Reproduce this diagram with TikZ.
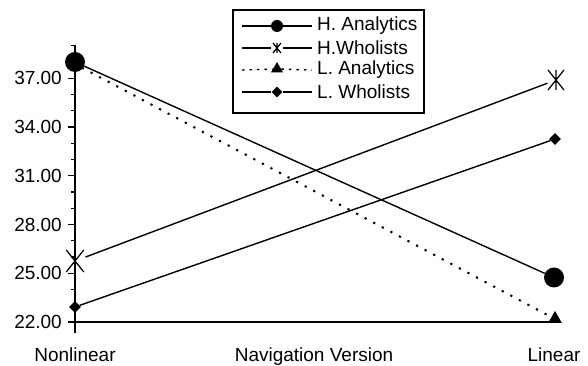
\documentclass[tikz,border=0pt]{standalone}
\usepackage{fontspec}
\setmainfont{Liberation Sans}
\usetikzlibrary{shapes.geometric}
\tikzset{
  axisline/.style={line width=1.5pt},
  dataline/.style={line width=1.4pt},
  dotline/.style={line width=2pt, dash pattern=on 2.2pt off 7.5pt},
  legdot/.style={line width=1.4pt, dash pattern=on 2.5pt off 5pt},
  lbl/.style={font=\fontsize{19}{21}\selectfont, inner sep=0pt},
  bigdot/.style={circle, fill=black, minimum size=20pt, inner sep=0pt},
  smalldot/.style={circle, fill=black, minimum size=12pt, inner sep=0pt},
  bigdia/.style={diamond, fill=black, minimum size=12pt, inner sep=0pt},
  smalldia/.style={diamond, fill=black, minimum size=11pt, inner sep=0pt},
  bigtri/.style={regular polygon, regular polygon sides=3, fill=black, minimum size=16pt, inner sep=0pt},
  smalltri/.style={regular polygon, regular polygon sides=3, fill=black, minimum size=14pt, inner sep=0pt},
  starholder/.style={circle, minimum size=#1, inner sep=0pt},
  aster/.pic={\draw[line width=1.2pt] (0,-#1)--(0,#1) (-0.8*#1,-#1)--(0.8*#1,#1) (-0.8*#1,#1)--(0.8*#1,-#1);}
}
\begin{document}
\begin{tikzpicture}[x=1pt,y=1pt]
\useasboundingbox (0,0) rectangle (588,366);
% axes
\coordinate (ybot) at (75,33);
\coordinate (ytop) at (75,320.5);
\coordinate (xl) at (68,44);
\coordinate (xr) at (555,44);
\draw[axisline] (ybot) -- (ytop);
\draw[axisline] (xl) -- (xr);
% ticks
\foreach \v in {23,24,26,27,29,30,32,33,35,36,38,39} {
  \draw[line width=1.3pt] (71,{44+(\v-22)*16.25}) -- (75,{44+(\v-22)*16.25});
}
\foreach \v in {25,28,31,34,37} {
  \draw[line width=1.3pt] (68,{44+(\v-22)*16.25}) -- (75,{44+(\v-22)*16.25});
}
\foreach \v in {22,25,28,31,34,37} {
  \node[lbl, anchor=east] (lab\v) at (62,{44+(\v-22)*16.25}) {\v.00};
}
% category labels
\node[lbl, anchor=base] (nonlin) at (75,4) {Nonlinear};
\node[lbl, anchor=base] (navver) at (314,4) {Navigation Version};
\node[lbl, anchor=base] (lin) at (554,4) {Linear};
% data markers
\node[starholder=22pt] (hw1) at (75,105) {};
\pic at (hw1.center) {aster=11};
\node[starholder=18pt] (hw2) at (556,286) {};
\pic at (hw2.center) {aster=10};
\node[bigtri] (la1) at (75,302) {};
\node[bigtri] (la2) at (555,47) {};
\node[bigdia] (lw1) at (75,59) {};
\node[bigdia] (lw2) at (555,227) {};
\node[bigdot] (ha1) at (75,304) {};
\node[bigdot] (ha2) at (554,88.5) {};
% data lines
\draw[dataline] (ha1) -- (ha2);
\draw[dataline] (hw1) -- (hw2);
\draw[dotline] (la1) -- (la2);
\draw[dataline] (lw1) -- (lw2);
% legend
\node[draw, line width=1.3pt, minimum width=191pt, minimum height=103pt, inner sep=0pt] (legbox) at (328.5,304.5) {};
\foreach \i/\y/\t in {1/340/{H. Analytics},2/318/{H.Wholists},3/296/{L. Analytics},4/274/{L. Wholists}} {
  \coordinate (la\i) at (242,\y);
  \coordinate (lb\i) at (312,\y);
  \node[lbl, anchor=west] (lt\i) at (317,\y) {\t};
}
\node[smalldot] (lm1) at (277,340) {};
\node[starholder=11pt] (lm2) at (277,318) {};
\pic at (lm2.center) {aster=5};
\node[smalltri] (lm3) at (277,297) {};
\node[smalldia] (lm4) at (277,274) {};
\draw[dataline] (la1) -- (lm1) -- (lb1);
\draw[dataline] (la2) -- (lm2) (lm2) -- (lb2);
\draw[legdot] (la3) -- (lm3) (lm3) -- (lb3);
\draw[dataline] (la4) -- (lm4) -- (lb4);
\end{tikzpicture}
\end{document}
